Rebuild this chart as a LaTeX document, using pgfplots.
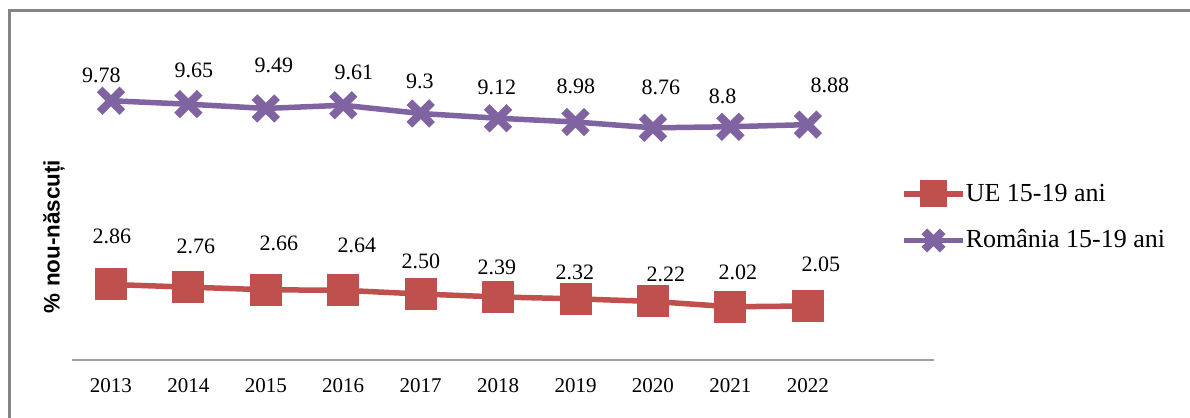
\documentclass[border=0pt]{standalone}
\usepackage{fontspec}
\setmainfont{Liberation Serif}
\newfontfamily\arial{Liberation Sans}
\usepackage{pgfplots}
\pgfplotsset{compat=1.18}
\definecolor{ueRed}{HTML}{C0504D}
\definecolor{roPurple}{HTML}{8064A2}
\definecolor{frameGray}{HTML}{868686}
\definecolor{axisGray}{HTML}{A0A0A0}
\pgfdeclareplotmark{rsquare*}{%
  \pgfsetcornersarced{\pgfqpoint{2.5pt}{2.5pt}}%
  \pgfpathmoveto{\pgfqpoint{0pt}{-\pgfplotmarksize}}%
  \pgfpathlineto{\pgfqpoint{\pgfplotmarksize}{-\pgfplotmarksize}}%
  \pgfpathlineto{\pgfqpoint{\pgfplotmarksize}{\pgfplotmarksize}}%
  \pgfpathlineto{\pgfqpoint{-\pgfplotmarksize}{\pgfplotmarksize}}%
  \pgfpathlineto{\pgfqpoint{-\pgfplotmarksize}{-\pgfplotmarksize}}%
  \pgfpathclose
  \pgfusepathqfillstroke}
\begin{document}
\begin{tikzpicture}
\useasboundingbox (0,0) rectangle (595pt,209pt);
\draw[color=frameGray, line width=1.5pt] (4.85pt,-5pt) -- (4.85pt,203.5pt) -- (600pt,203.5pt);
\node[rotate=90, font=\arial\bfseries\fontsize{11.2}{13}\selectfont, inner sep=0pt] at (27pt,90.75pt) {\% nou-născuți};
\begin{axis}[
  at={(36pt,28.8pt)}, anchor=south west,
  scale only axis, width=431pt, height=159.3pt,
  xmin=-0.503, xmax=10.63, ymin=0, ymax=12,
  axis x line*=bottom, axis y line=none,
  x axis line style={color=axisGray, line width=0.9pt, -},
  xtick={0,1,2,3,4,5,6,7,8,9},
  xticklabels={2013,2014,2015,2016,2017,2018,2019,2020,2021,2022},
  major tick length=0pt,
  xticklabel style={font=\fontsize{10.5}{12}\selectfont, yshift=-5.5pt},
  clip=false,
  legend cell align=left,
  legend style={at={(axis description cs:0.962,0.4495)}, anchor=west, draw=none, fill=none,
    inner sep=0pt, outer sep=0pt, row sep=0pt, font=\fontsize{13}{15}\selectfont,
    nodes={minimum height=23.25pt, inner ysep=0pt, inner xsep=0pt}},
  legend image code/.code={\draw[#1, mark size=6.5pt, mark repeat=2, mark phase=2] plot coordinates {(0pt,0pt) (14.75pt,0pt) (29.5pt,0pt)};},
]
\addplot[color=ueRed, line width=2.75pt, mark=rsquare*,
  mark size=7.75pt, mark options={fill=ueRed, draw=ueRed, line width=0.5pt}]
  coordinates {(0,2.86) (1,2.76) (2,2.66) (3,2.64) (4,2.50) (5,2.39) (6,2.32) (7,2.22) (8,2.02) (9,2.05)};
\addlegendentry{UE 15-19 ani}
\addplot[color=roPurple, line width=2.75pt, mark=x,
  mark size=8pt, mark options={draw=roPurple, line width=4pt}]
  coordinates {(0,9.78) (1,9.65) (2,9.49) (3,9.61) (4,9.30) (5,9.12) (6,8.98) (7,8.76) (8,8.80) (9,8.88)};
\addlegendentry{România 15-19 ani}
% data labels (Romania)
\begin{scope}[every node/.style={font=\fontsize{11}{13}\selectfont, inner sep=0pt}]
\node at (axis cs:-0.123,10.73) {9.78};
\node at (axis cs:1.072,10.92) {9.65};
\node at (axis cs:2.105,11.13) {9.49};
\node at (axis cs:3.138,10.84) {9.61};
\node at (axis cs:3.99,10.52) {9.3};
\node at (axis cs:4.984,10.30) {9.12};
\node at (axis cs:6.005,10.34) {8.98};
\node at (axis cs:7.103,10.30) {8.76};
\node at (axis cs:7.90,9.94) {8.8};
\node at (axis cs:9.285,10.37) {8.88};
% data labels (UE)
\node at (axis cs:0.013,4.67) {2.86};
\node at (axis cs:1.098,4.29) {2.76};
\node at (axis cs:2.169,4.40) {2.66};
\node at (axis cs:3.177,4.35) {2.64};
\node at (axis cs:4.003,3.74) {2.50};
\node at (axis cs:4.984,3.51) {2.39};
\node at (axis cs:5.992,3.32) {2.32};
\node at (axis cs:7.167,3.24) {2.22};
\node at (axis cs:8.097,3.31) {2.02};
\node at (axis cs:9.168,3.61) {2.05};
\end{scope}
\end{axis}
\end{tikzpicture}
\end{document}
